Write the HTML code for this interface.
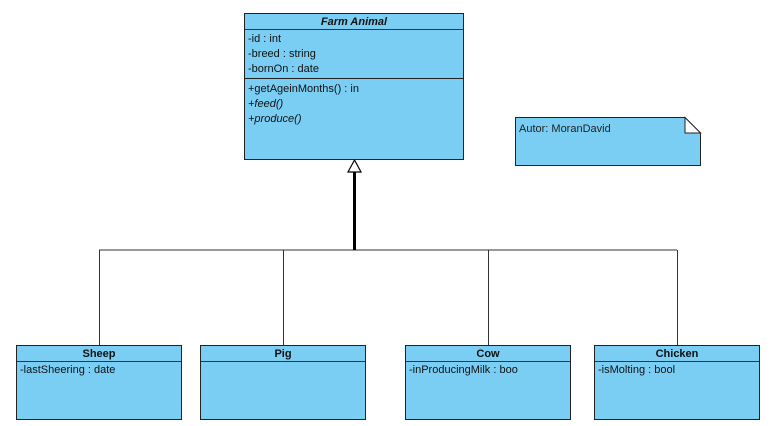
<!DOCTYPE html>
<html><head><style>
body{margin:0;background:#fff;width:775px;height:426px;overflow:hidden;position:relative;font-family:"Liberation Sans",sans-serif;}
.b{position:absolute;background:#7acef4;border:1px solid #222;box-sizing:border-box;font-size:11px;color:#111;}
.h{font-weight:bold;text-align:center;height:15px;line-height:17px;border-bottom:1px solid #333;}
.r{padding-left:3px;line-height:15px;}
i{font-style:italic}
</style></head><body>
<svg width="775" height="426" style="position:absolute;left:0;top:0">
<g stroke="#333" stroke-width="1" fill="none">
<line x1="99" y1="250" x2="677" y2="250"/>
<line x1="99.5" y1="250" x2="99.5" y2="345"/>
<line x1="283.5" y1="250" x2="283.5" y2="345"/>
<line x1="488.5" y1="250" x2="488.5" y2="345"/>
<line x1="677.5" y1="250" x2="677.5" y2="345"/>
</g>
<line x1="354.5" y1="171" x2="354.5" y2="250" stroke="#000" stroke-width="3"/>
<polygon points="354.5,160 348,172 361,172" fill="#fff" stroke="#000" stroke-width="1.2"/>
</svg>
<div class="b" style="left:244px;top:13px;width:220px;height:147px;">
<div class="h"><i>Farm Animal</i></div>
<div style="border-bottom:1px solid #222;padding:2px 0 1px;">
<div class="r">-id : int</div><div class="r">-breed : string</div><div class="r">-bornOn : date</div></div>
<div style="padding-top:3px"><div class="r">+getAgeinMonths() : in</div><div class="r"><i>+feed()</i></div><div class="r"><i>+produce()</i></div></div>
</div>
<svg width="775" height="426" style="position:absolute;left:0;top:0">
<path d="M515.5,117.5 H685 L700.5,133 V165.5 H515.5 Z" fill="#7acef4" stroke="#222"/>
<path d="M685,117.5 V133 H700.5 Z" fill="#fff" stroke="#222"/>
<text x="519" y="132" font-family="Liberation Sans" font-size="11" fill="#222">Autor: MoranDavid</text>
</svg>
<div class="b" style="left:16px;top:345px;width:166px;height:75px;"><div class="h">Sheep</div><div class="r" style="padding-top:1px">-lastSheering : date</div></div>
<div class="b" style="left:200px;top:345px;width:166px;height:75px;"><div class="h">Pig</div></div>
<div class="b" style="left:405px;top:345px;width:166px;height:75px;"><div class="h">Cow</div><div class="r" style="padding-top:1px">-inProducingMilk : boo</div></div>
<div class="b" style="left:594px;top:345px;width:166px;height:75px;"><div class="h">Chicken</div><div class="r" style="padding-top:1px">-isMolting : bool</div></div>
</body></html>
